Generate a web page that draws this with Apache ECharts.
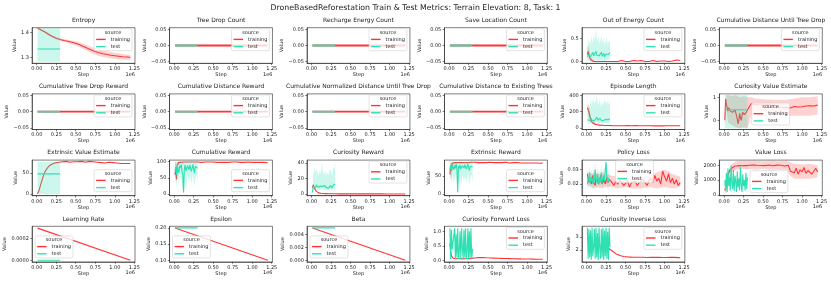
<!DOCTYPE html>
<html><head><meta charset="utf-8">
<script src="https://cdn.jsdelivr.net/npm/echarts@6/dist/echarts.min.js"></script>
<style>html,body{margin:0;padding:0;background:#fff}#c{width:831px;height:283px}</style>
</head><body><div id="c"></div>
<script>
// ---------------- DATA (steps in units of 1e6) ----------------
const mainTitle = 'DroneBasedReforestation Train & Test Metrics: Terrain Elevation: 8, Task: 1';
const xTicks = [0, 0.25, 0.5, 0.75, 1.0, 1.25];

const trainX = [0.01,0.02,0.03,0.04,0.05,0.06,0.07,0.08,0.09,0.10,
  0.11,0.12,0.13,0.14,0.15,0.16,0.17,0.18,0.19,0.20,
  0.21,0.22,0.23,0.24,0.25,0.26,0.27,0.28,0.29,0.30,
  0.325,0.35,0.375,0.40,0.425,0.45,0.475,0.50,0.525,0.55,
  0.575,0.60,0.625,0.65,0.675,0.70,0.725,0.75,0.775,0.80,
  0.825,0.85,0.875,0.90,0.925,0.95,0.975,1.00,1.025,1.05,
  1.075,1.10,1.125,1.15,1.175,1.20];
const testX = [0.01,0.02,0.03,0.04,0.05,0.06,0.07,0.08,0.09,0.10,
  0.11,0.12,0.13,0.14,0.15,0.16,0.17,0.18,0.19,0.20,
  0.21,0.22,0.23,0.24,0.25,0.26,0.27,0.28,0.29,0.30];
const lineTrainX = [0.01, 1.20];
const lineTestX = [0.01, 0.30];

// Entropy
const entropyX = [0.01,0.05,0.1,0.15,0.2,0.25,0.3,0.35,0.4,0.45,0.5,0.55,0.6,0.65,0.7,0.75,0.8,0.85,0.9,0.95,1.0,1.05,1.1,1.15,1.2];
const entropyTrain = [1.416,1.41,1.402,1.392,1.383,1.376,1.371,1.367,1.364,1.36,1.356,1.35,1.343,1.336,1.329,1.323,1.318,1.314,1.311,1.308,1.306,1.304,1.302,1.301,1.300];
const entropyTrainHi = [1.418,1.413,1.406,1.397,1.388,1.381,1.376,1.373,1.37,1.367,1.364,1.359,1.353,1.347,1.341,1.336,1.331,1.327,1.324,1.321,1.318,1.316,1.313,1.311,1.309];
const entropyTrainLo = [1.414,1.407,1.398,1.387,1.378,1.371,1.366,1.361,1.358,1.353,1.348,1.341,1.333,1.325,1.317,1.31,1.305,1.301,1.298,1.295,1.294,1.292,1.291,1.29,1.29];
const entropyTest = [1.333, 1.333];
const entropyTestHi = [1.416, 1.416];
const entropyTestLo = [1.282, 1.282];

// Constant-zero metrics
const zeroTrain = [0, 0];
const zeroTest = [0, 0];

// Out of Energy Count
const ooeTrain = [0.15,0.22,0.18,0.08,0.04,0.03,0.01,0.02,0.0,0.01,0.0,0.0,0.01,0.0,0.0,0.0,0.01,0.0,0.0,0.0,0.0,0.01,0.0,0.0,0.0,0.0,0.0,0.01,0.0,0.0,
  0.0,0.0,0.0,0.0,0.01,0.02,0.01,0.0,0.01,0.0,0.01,0.02,0.0,0.01,0.0,0.02,0.01,0.0,0.01,0.0,0.01,0.02,0.01,0.0,0.02,0.01,0.03,0.01,0.02,0.0,0.02,0.01,0.02,0.03,0.01,0.02];
const ooeBandX = [0.01,0.02,0.03,0.04,0.05,0.06,0.08,0.1];
const ooeTrainHi = [0.3,0.33,0.3,0.2,0.12,0.08,0.04,0.02];
const ooeTrainLo = [0.05,0.12,0.08,0.02,0.0,0.0,0.0,0.0];
const ooeTest = [0.1,0.15,0.12,0.18,0.1,0.08,0.14,0.2,0.12,0.1,0.16,0.22,0.14,0.1,0.18,0.12,0.09,0.15,0.2,0.11,0.13,0.18,0.1,0.12,0.16,0.2,0.13,0.15,0.18,0.2];
const ooeTestHi = [0.3,0.38,0.5,0.42,0.35,0.55,0.45,0.4,0.6,0.48,0.52,0.72,0.5,0.42,0.55,0.45,0.38,0.5,0.55,0.4,0.45,0.52,0.36,0.42,0.48,0.5,0.38,0.44,0.4,0.45];
const ooeTestLo = [0.0,0.02,0.0,0.03,0.0,0.0,0.02,0.05,0.0,0.0,0.03,0.04,0.02,0.0,0.04,0.02,0.0,0.03,0.05,0.0,0.02,0.04,0.0,0.01,0.03,0.05,0.02,0.03,0.05,0.06];

// Episode Length
const epTrain = [250,230,200,150,110,85,70,60,55,48,45,42,40,38,36,35,34,33,32,32,31,30,30,31,29,30,29,28,29,28,
  28,29,27,28,27,28,26,27,28,27,26,27,28,26,27,26,27,28,26,27,26,27,25,26,27,26,25,26,27,25,26,24,26,25,27,26];
const epBandX = [0.01,0.02,0.03,0.04,0.05,0.06,0.08,0.1,0.15,0.2,0.3];
const epTrainHi = [300,290,280,220,160,120,90,70,50,40,35];
const epTrainLo = [200,170,130,90,70,55,45,35,28,25,22];
const epTest = [100,95,110,90,105,120,95,100,115,90,105,100,130,110,95,100,120,105,90,110,100,95,115,100,105,90,110,100,95,115];
const epTestHi = [180,220,300,250,350,280,260,380,330,300,310,340,390,320,280,300,370,290,260,320,300,280,350,310,330,260,340,300,290,370];
const epTestLo = [60,50,70,40,60,75,50,55,70,45,60,55,80,65,50,55,70,60,45,65,55,50,65,55,60,45,65,55,50,70];

// Curiosity Value Estimate
const cveTrain = [0.0,0.93,0.7,0.55,0.4,0.55,0.5,0.4,0.45,0.42,0.35,0.3,0.28,0.45,0.5,0.2,0.05,-0.15,0.0,0.3,0.1,0.0,0.2,0.35,0.4,0.25,0.2,0.3,0.38,0.3,
  0.6,0.72,0.7,0.68,0.72,0.7,0.68,0.7,0.69,0.7,0.68,0.66,0.62,0.6,0.58,0.57,0.56,0.55,0.55,0.56,0.55,0.54,0.58,0.6,0.56,0.58,0.6,0.59,0.6,0.62,0.6,0.63,0.64,0.62,0.65,0.66];
const cveBandX = [0.01,0.03,0.05,0.1,0.15,0.2,0.25,0.3,0.35,0.4,0.5,0.6,0.7,0.8,0.9,1.0,1.1,1.2];
const cveTrainHi = [0.2,1.1,1.1,1.05,1.1,1.0,1.05,1.0,1.0,0.95,0.92,0.9,0.88,0.9,0.95,1.0,1.0,1.05];
const cveTrainLo = [-0.2,0.5,-0.1,-0.2,-0.3,-0.35,-0.3,-0.35,0.2,0.3,0.35,0.3,0.25,0.2,0.2,0.2,0.2,0.25];
const cveTest = [0.46, 0.46];
const cveTestHi = [1.1, 1.1];
const cveTestLo = [-0.35, -0.35];

// Extrinsic Value Estimate
const eveTrain = [0,4,9,15,22,28,34,40,45,50,54,57,60,62,64,66,68,69,70,71,72,72,73,73,74,74,75,74,75,75,
  76,75,77,76,75,77,76,78,76,75,77,76,75,76,77,75,76,74,75,76,74,75,73,74,75,73,74,72,73,74,72,73,72,73,72,72];
const eveTest = [47.5, 47.5];
const eveTestHi = [76, 76];
const eveTestLo = [0, 0];

// Cumulative Reward
const crTrain = [60,80,45,90,95,98,97,99,98,99,98,99,99,98,99,99,98,99,99,98,99,99,98,99,99,98,99,98,99,99,
  99,98,99,99,98,99,98,99,99,98,99,98,99,98,99,98,98,99,98,99,98,98,99,98,97,99,98,98,97,98,97,98,97,98,97,97];
const crBandX = [0.01,0.02,0.03,0.04,0.05,0.06,0.08];
const crTrainHi = [95,100,90,100,100,100,100];
const crTrainLo = [30,55,35,70,85,92,95];
const crTest = [70,85,60,90,75,65,88,80,92,70,60,5,78,90,72,68,88,82,75,90,85,70,80,92,78,65,85,88,90,80];
const crTestHi = [95,100,98,100,100,95,100,100,100,98,95,100,100,100,98,96,100,100,98,100,100,98,100,100,100,96,100,100,100,100];
const crTestLo = [40,60,20,65,45,30,55,50,70,30,10,0,20,60,35,25,60,50,35,55,50,30,45,65,40,25,50,55,60,30];

// Curiosity Reward
const curTrain = [8,12,11,7,5,3.5,2.5,2,1.6,1.3,1.1,1,0.9,0.8,0.7,0.7,0.6,0.6,0.5,0.5,0.5,0.5,0.45,0.45,0.4,0.4,0.4,0.4,0.35,0.35,
  0.35,0.3,0.3,0.3,0.3,0.28,0.28,0.27,0.27,0.26,0.26,0.25,0.25,0.24,0.24,0.23,0.23,0.22,0.22,0.21,0.21,0.2,0.2,0.2,0.19,0.19,0.18,0.18,0.18,0.17,0.17,0.16,0.16,0.16,0.15,0.15];
const curTest = [2,10,9,11,8,12,10,9,8,11,10,9,12,10,8,9,11,9,8,10,9,8,10,11,9,8,10,12,11,13];
const curTestHi = [5,25,30,35,28,32,30,25,24,30,28,26,42,33,25,26,30,28,24,28,26,25,30,33,28,24,30,35,33,42];
const curTestLo = [0,5,6,6,5,7,6,5,5,6,6,5,7,6,5,5,6,5,5,6,5,5,6,6,5,5,6,7,6,7];

// Extrinsic Reward
const erTrain = [55,80,65,85,88,87,88,88,89,88,88,89,88,89,88,88,89,88,88,89,88,88,89,88,88,89,88,89,88,88,
  89,88,88,89,88,89,88,88,89,88,88,89,88,87,88,88,89,88,87,88,88,87,88,86,87,88,87,88,87,86,87,86,87,87,86,87];
const erBandX = [0.01,0.02,0.03,0.04,0.05,0.06,0.08];
const erTrainHi = [85,92,88,92,92,90,90];
const erTrainLo = [30,55,40,70,80,84,86];
const erTest = [70,80,65,82,75,68,80,72,85,70,5,78,72,82,70,68,80,76,72,82,78,70,75,84,74,66,78,80,82,76];
const erTestHi = [85,90,88,92,90,86,90,90,92,88,86,90,90,92,88,86,90,90,88,92,90,88,90,92,90,86,90,92,92,90];
const erTestLo = [35,55,25,60,40,30,50,45,60,30,0,45,15,55,35,25,55,45,35,50,45,30,40,60,40,25,45,50,55,30];

// Policy Loss
const plTrain = [0.027,0.024,0.021,0.025,0.022,0.02,0.023,0.026,0.021,0.022,0.019,0.024,0.022,0.025,0.02,0.023,0.021,0.026,0.022,0.02,0.024,0.021,0.023,0.02,0.022,0.025,0.021,0.022,0.02,0.023,
  0.021,0.019,0.022,0.02,0.023,0.021,0.019,0.02,0.022,0.018,0.021,0.02,0.022,0.019,0.021,0.02,0.023,0.021,0.019,0.022,0.024,0.021,0.026,0.022,0.024,0.02,0.029,0.025,0.022,0.027,0.021,0.024,0.02,0.023,0.019,0.021];
const plBandX = [0.01,0.05,0.1,0.15,0.2,0.25,0.3,0.4,0.5,0.6,0.7,0.8,0.9,1.0,1.1,1.2];
const plTrainHi = [0.029,0.027,0.028,0.027,0.028,0.027,0.026,0.025,0.024,0.025,0.024,0.026,0.028,0.03,0.027,0.025];
const plTrainLo = [0.019,0.018,0.017,0.018,0.017,0.018,0.018,0.017,0.018,0.017,0.017,0.018,0.017,0.018,0.017,0.018];
const plTest = [0.02,0.024,0.022,0.028,0.021,0.025,0.023,0.02,0.026,0.022,0.03,0.024,0.021,0.027,0.023,0.02,0.025,0.022,0.028,0.021,0.024,0.026,0.022,0.03,0.035,0.025,0.021,0.024,0.022,0.023];
const plTestHi = [0.025,0.029,0.027,0.033,0.026,0.03,0.028,0.025,0.031,0.027,0.035,0.029,0.026,0.032,0.028,0.025,0.03,0.027,0.033,0.026,0.029,0.031,0.027,0.035,0.036,0.03,0.026,0.029,0.027,0.028];
const plTestLo = [0.016,0.019,0.018,0.022,0.017,0.02,0.019,0.016,0.021,0.018,0.024,0.019,0.017,0.022,0.019,0.016,0.02,0.018,0.023,0.017,0.019,0.021,0.018,0.024,0.028,0.02,0.017,0.019,0.018,0.019];

// Value Loss
const vlTrain = [300,280,320,900,1300,1500,1600,1700,1750,1800,1850,1900,1880,1950,1980,2000,1960,2020,2000,1980,2030,2000,1970,2010,2040,1990,2000,2020,1980,2010,
  2000,1980,2020,1990,2000,2030,1990,2010,1980,2000,2020,1990,1970,2000,2010,1980,2000,1990,1950,2010,2000,1600,1700,1500,1800,1400,1700,1550,1850,1450,1650,1750,1400,1600,1800,1550];
const vlBandX = [0.01,0.03,0.05,0.1,0.15,0.2,0.3,0.4,0.5,0.6,0.7,0.8,0.85,0.9,1.0,1.1,1.2];
const vlTrainHi = [450,450,1600,2100,2250,2300,2300,2300,2280,2300,2280,2300,2200,2100,2050,2100,2000];
const vlTrainLo = [150,150,600,1500,1700,1750,1750,1700,1750,1700,1700,1700,1300,1100,1100,1100,1200];
const vlTest = [1000,300,1500,200,1800,600,1200,300,2000,800,400,1700,250,1300,900,200,1600,500,1100,300,1900,700,200,1400,600,1000,300,1500,400,1200];

// Learning Rate / Epsilon / Beta
const lrTrain = [0.000298, 0.0];
const lrTest = [0.0, 0.0];
const epsTrain = [0.2, 0.1];
const epsTest = [0.2, 0.2];
const betaTrain = [0.005, 0.0];
const betaTest = [0.005, 0.005];

// Curiosity Forward Loss
const cflTrain = [0.58,0.3,0.15,0.1,0.08,0.07,0.065,0.06,0.06,0.06,0.058,0.058,0.057,0.056,0.056,0.056,0.055,0.055,0.056,0.057,0.057,0.058,0.058,0.059,0.06,0.062,0.064,0.066,0.07,0.075,
  0.085,0.095,0.1,0.1,0.098,0.095,0.09,0.088,0.085,0.082,0.08,0.078,0.075,0.072,0.07,0.068,0.066,0.064,0.062,0.06,0.058,0.056,0.055,0.054,0.052,0.05,0.05,0.048,0.047,0.046,0.045,0.044,0.043,0.042,0.041,0.04];
const cflTest = [1.1,0.05,1.05,0.38,0.36,0.37,1.1,0.05,0.9,0.1,1.1,0.05,0.3,1.0,0.05,1.1,0.4,0.05,1.05,0.1,1.1,0.05,0.3,1.1,0.05,1.0,0.1,1.1,0.05,0.4];

// Curiosity Inverse Loss
const cilTrain = [3.3,2.6,2.45,2.4,2.38,2.36,2.35,2.34,2.33,2.34,2.32,2.33,2.32,2.31,2.32,2.3,2.31,2.3,2.29,2.28,2.27,2.25,2.24,2.22,2.2,2.18,2.15,2.12,2.08,2.04,
  1.92,1.8,1.7,1.62,1.56,1.52,1.48,1.46,1.45,1.44,1.43,1.44,1.42,1.43,1.42,1.41,1.42,1.41,1.4,1.41,1.42,1.4,1.41,1.4,1.42,1.41,1.4,1.41,1.4,1.42,1.41,1.4,1.41,1.4,1.39,1.38];
const cilTest = [3.7,1.3,3.6,1.4,3.5,1.2,3.7,1.5,2.2,3.6,1.3,3.7,1.4,3.3,1.2,3.7,2.0,1.3,3.6,1.4,3.7,1.2,3.5,1.5,3.7,1.3,3.4,1.2,3.7,2.2];

// y tick values
const entropyTicks = [1.3, 1.4];
const zeroTicks = [-0.05, 0, 0.05];
const ooeTicks = [0, 0.5];
const epTicks = [0, 200, 400];
const cveTicks = [0, 1];
const eveTicks = [0, 50];
const crTicks = [0, 50, 100];
const curTicks = [0, 20, 40];
const erTicks = [0, 50];
const plTicks = [0.02, 0.03];
const vlTicks = [0, 1000, 2000];
const lrTicks = [0, 0.0002];
const epsTicks = [0.10, 0.15, 0.20];
const betaTicks = [0, 0.002, 0.004];
const cflTicks = [0, 0.5, 1.0];
const cilTicks = [2, 3];

// ---------------- LAYOUT / STYLE ----------------
const W = 831, H = 283;
const FONT = 'DejaVu Sans';
const TXT = '#222';
const RED = '#ff3333', TEAL = '#2fe0b2';
const RED_BAND = 'rgba(255,51,51,0.22)', TEAL_BAND = 'rgba(47,224,178,0.25)';
const BOX_W = 102.9, BOX_H = 35.6;
const colLeft = c => 32.1 + 137.46 * c;
const rowTop = r => 27.7 + 66.2 * r;
const XMIN = -0.0595, XMAX = 1.2595;

const mctx = document.createElement('canvas').getContext('2d');
function tw(s, size) { mctx.font = size + 'px "' + FONT + '"'; return mctx.measureText(s).width; }
function fmt(v, d) { return v.toFixed(d).replace('-', '\u2212'); }

const L = (src, x, y) => ({kind: 'line', src, x, y});
const B = (src, x, lo, hi) => ({kind: 'band', src, x, lo, hi});
const zeroSeries = [L('training', lineTrainX, zeroTrain), L('test', lineTestX, zeroTest)];

const plots = [
  {t: 'Entropy', ylim: [1.276, 1.418], yt: entropyTicks, yd: 1, leg: 'ur', s: [
    B('training', entropyX, entropyTrainLo, entropyTrainHi), L('training', entropyX, entropyTrain),
    B('test', lineTestX, entropyTestLo, entropyTestHi), L('test', lineTestX, entropyTest)]},
  {t: 'Tree Drop Count', ylim: [-0.055, 0.055], yt: zeroTicks, yd: 2, leg: 'ur', s: zeroSeries, flat: true},
  {t: 'Recharge Energy Count', ylim: [-0.055, 0.055], yt: zeroTicks, yd: 2, leg: 'ur', s: zeroSeries, flat: true},
  {t: 'Save Location Count', ylim: [-0.055, 0.055], yt: zeroTicks, yd: 2, leg: 'ur', s: zeroSeries, flat: true},
  {t: 'Out of Energy Count', ylim: [-0.04, 0.73], yt: ooeTicks, yd: 1, leg: 'ur', s: [
    B('training', ooeBandX, ooeTrainLo, ooeTrainHi), L('training', trainX, ooeTrain),
    B('test', testX, ooeTestLo, ooeTestHi), L('test', testX, ooeTest)]},
  {t: 'Cumulative Distance Until Tree Drop', ylim: [-0.055, 0.055], yt: zeroTicks, yd: 2, leg: 'ur', s: zeroSeries, flat: true},

  {t: 'Cumulative Tree Drop Reward', ylim: [-0.055, 0.055], yt: zeroTicks, yd: 2, leg: 'ur', s: zeroSeries, flat: true},
  {t: 'Cumulative Distance Reward', ylim: [-0.055, 0.055], yt: zeroTicks, yd: 2, leg: 'ur', s: zeroSeries, flat: true},
  {t: 'Cumulative Normalized Distance Until Tree Drop', ylim: [-0.055, 0.055], yt: zeroTicks, yd: 2, leg: 'ur', s: zeroSeries, flat: true},
  {t: 'Cumulative Distance to Existing Trees', ylim: [-0.055, 0.055], yt: zeroTicks, yd: 2, leg: 'ur', s: zeroSeries, flat: true},
  {t: 'Episode Length', ylim: [-20, 420], yt: epTicks, yd: 0, leg: 'ur', s: [
    B('training', epBandX, epTrainLo, epTrainHi), L('training', trainX, epTrain),
    B('test', testX, epTestLo, epTestHi), L('test', testX, epTest)]},
  {t: 'Curiosity Value Estimate', ylim: [-0.40, 1.15], yt: cveTicks, yd: 0, leg: {dx: 32.3, dy: 9.1}, s: [
    B('training', cveBandX, cveTrainLo, cveTrainHi), L('training', trainX, cveTrain),
    B('test', lineTestX, cveTestLo, cveTestHi), L('test', lineTestX, cveTest)]},

  {t: 'Extrinsic Value Estimate', ylim: [-4, 80], yt: eveTicks, yd: 0, leg: 'lr', s: [
    L('training', trainX, eveTrain),
    B('test', lineTestX, eveTestLo, eveTestHi), L('test', lineTestX, eveTest)]},
  {t: 'Cumulative Reward', ylim: [-5, 105], yt: crTicks, yd: 0, leg: 'lr', s: [
    B('training', crBandX, crTrainLo, crTrainHi), L('training', trainX, crTrain),
    B('test', testX, crTestLo, crTestHi), L('test', testX, crTest)]},
  {t: 'Curiosity Reward', ylim: [-2.1, 44], yt: curTicks, yd: 0, leg: 'ur', s: [
    L('training', trainX, curTrain),
    B('test', testX, curTestLo, curTestHi), L('test', testX, curTest)]},
  {t: 'Extrinsic Reward', ylim: [-4.5, 95], yt: erTicks, yd: 0, leg: 'lr', s: [
    B('training', erBandX, erTrainLo, erTrainHi), L('training', trainX, erTrain),
    B('test', testX, erTestLo, erTestHi), L('test', testX, erTest)]},
  {t: 'Policy Loss', ylim: [0.012, 0.0365], yt: plTicks, yd: 2, leg: {dx: 33.6, dy: 0.6}, s: [
    B('training', plBandX, plTrainLo, plTrainHi), L('training', trainX, plTrain),
    B('test', testX, plTestLo, plTestHi), L('test', testX, plTest)]},
  {t: 'Value Loss', ylim: [-50, 2350], yt: vlTicks, yd: 0, leg: {dx: 30.6, dy: 10.6}, s: [
    B('training', vlBandX, vlTrainLo, vlTrainHi), L('training', trainX, vlTrain),
    L('test', testX, vlTest)]},

  {t: 'Learning Rate', ylim: [-0.000015, 0.000315], yt: lrTicks, yd: 4, leg: 'll', s: [
    L('training', lineTrainX, lrTrain), L('test', lineTestX, lrTest)]},
  {t: 'Epsilon', ylim: [0.095, 0.205], yt: epsTicks, yd: 2, leg: 'll', s: [
    L('training', lineTrainX, epsTrain), L('test', lineTestX, epsTest)]},
  {t: 'Beta', ylim: [-0.00025, 0.00525], yt: betaTicks, yd: 3, leg: 'll', s: [
    L('training', lineTrainX, betaTrain), L('test', lineTestX, betaTest)]},
  {t: 'Curiosity Forward Loss', ylim: [-0.05, 1.17], yt: cflTicks, yd: 1, leg: 'ur', s: [
    L('training', trainX, cflTrain), L('test', testX, cflTest)]},
  {t: 'Curiosity Inverse Loss', ylim: [1.06, 3.82], yt: cilTicks, yd: 0, leg: 'ur', s: [
    L('training', trainX, cilTrain), L('test', testX, cilTest)]}
];

// ---------------- BUILD OPTION ----------------
const grids = [], xAxes = [], yAxes = [], series = [], legends = [], titles = [];
titles.push({text: mainTitle, left: W / 2, top: 4.3, textAlign: 'center', padding: 0,
  textStyle: {fontSize: 7.8, fontWeight: 'normal', fontFamily: FONT, color: TXT}});

const FS = 5;
const legW = 2 + 9.5 + 5 + tw('training', FS) + 2;
const legH = 23;
const axisCol = '#262626';
// drawing order: training band < training line < test band < test line < legend
const Z = {training: {band: 10, line: 11}, test: {band: 12, line: 13}};

plots.forEach((p, i) => {
  const r = Math.floor(i / 6), c = i % 6;
  const left = colLeft(c), top = rowTop(r), right = left + BOX_W, bottom = top + BOX_H;
  grids.push({left, top, width: BOX_W, height: BOX_H, show: true, borderColor: axisCol, borderWidth: 0.6, containLabel: false});
  xAxes.push({gridIndex: i, type: 'value', min: XMIN, max: XMAX,
    axisLine: {show: true, onZero: false, lineStyle: {color: axisCol, width: 0.6}},
    axisTick: {show: true, length: 1.8, customValues: xTicks, lineStyle: {color: axisCol, width: 0.6}},
    axisLabel: {customValues: xTicks, formatter: v => fmt(v, 2), fontSize: FS, margin: 3.2, color: TXT, fontFamily: FONT},
    splitLine: {show: false},
    name: 'Step', nameLocation: 'middle', nameGap: 8.3,
    nameTextStyle: {fontSize: FS, color: TXT, fontFamily: FONT, verticalAlign: 'top'}});
  const labels = p.yt.map(v => fmt(v, p.yd));
  const maxW = Math.max(...labels.map(s => tw(s, FS)));
  yAxes.push({gridIndex: i, type: 'value', min: p.ylim[0], max: p.ylim[1],
    axisLine: {show: true, onZero: false, lineStyle: {color: axisCol, width: 0.6}},
    axisTick: {show: true, length: 1.8, customValues: p.yt, lineStyle: {color: axisCol, width: 0.6}},
    axisLabel: {customValues: p.yt, formatter: v => fmt(v, p.yd), fontSize: FS, margin: 3.2, color: TXT, fontFamily: FONT},
    splitLine: {show: false},
    name: 'Value', nameLocation: 'middle', nameGap: maxW + 5.2, nameRotate: 90,
    nameTextStyle: {fontSize: FS, color: TXT, fontFamily: FONT}});

  p.s.forEach(s => {
    const col = s.src === 'training' ? RED : TEAL;
    if (s.kind === 'band') {
      const fill = s.src === 'training' ? RED_BAND : TEAL_BAND;
      series.push({type: 'custom', name: s.src + ' band', xAxisIndex: i, yAxisIndex: i, silent: true, animation: false,
        z: Z[s.src].band,
        data: [[s.x[0], s.lo[0]]],
        renderItem: (params, api) => {
          const pts = [];
          for (let k = 0; k < s.x.length; k++) pts.push(api.coord([s.x[k], s.hi[k]]));
          for (let k = s.x.length - 1; k >= 0; k--) pts.push(api.coord([s.x[k], s.lo[k]]));
          return {type: 'polygon', shape: {points: pts}, style: {fill: fill}};
        }});
    } else {
      // constant metrics get a slightly heavier stroke so the thin horizontal line keeps its colour
      series.push({type: 'line', name: s.src, xAxisIndex: i, yAxisIndex: i, animation: false, silent: true,
        z: Z[s.src].line,
        data: s.x.map((v, k) => [v, s.y[k]]), showSymbol: false, color: col,
        lineStyle: {width: p.flat ? 1.8 : 1.1, color: col}, itemStyle: {color: col}});
    }
  });

  titles.push({text: p.t, left: left + BOX_W / 2, top: top - 10.3, textAlign: 'center', padding: 0,
    textStyle: {fontSize: 6, fontWeight: 'normal', fontFamily: FONT, color: TXT}});
  titles.push({text: '1e6', left: right, top: bottom + 8.6, textAlign: 'right', padding: 0,
    textStyle: {fontSize: FS, fontWeight: 'normal', fontFamily: FONT, color: TXT}});

  let lx, ly;
  const m = 3;
  if (p.leg === 'ur') { lx = right - m - legW; ly = top + 1; }
  else if (p.leg === 'lr') { lx = right - m - legW; ly = bottom - m - legH; }
  else if (p.leg === 'll') { lx = left + m; ly = bottom - m - legH; }
  else { lx = left + p.leg.dx; ly = top + p.leg.dy; }
  legends.push({orient: 'vertical', left: lx, top: ly, data: [{name: 'training', itemStyle: {color: RED}}, {name: 'test', itemStyle: {color: TEAL}}],
    icon: 'rect', itemWidth: 9.5, itemHeight: 1.4, itemGap: 2.2, padding: [8.2, 2, 1.6, 2],
    textStyle: {fontSize: FS, fontFamily: FONT, color: TXT}, selectedMode: false,
    borderColor: '#d0d0d0', borderWidth: 0.6, borderRadius: 1.5, backgroundColor: 'rgba(255,255,255,0.8)', z: 20});
  titles.push({text: 'source', left: lx + legW / 2, top: ly + 1.6, textAlign: 'center', padding: 0, z: 22,
    textStyle: {fontSize: FS, fontWeight: 'normal', fontFamily: FONT, color: TXT}});
});

const chart = echarts.init(document.getElementById('c'), null, {renderer: 'canvas', width: W, height: H});
chart.setOption({
  animation: false,
  backgroundColor: '#fff',
  textStyle: {fontFamily: FONT},
  title: titles, grid: grids, xAxis: xAxes, yAxis: yAxes, legend: legends, series: series
});
</script></body></html>
